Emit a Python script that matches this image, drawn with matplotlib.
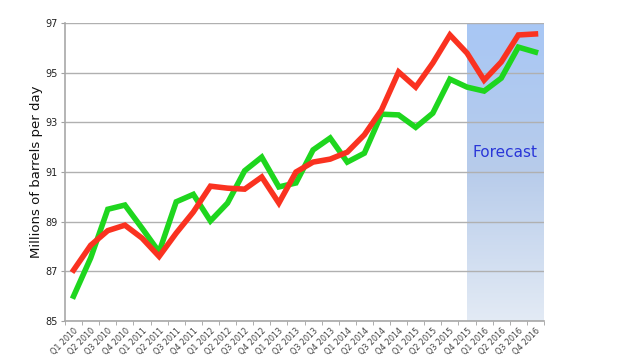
import matplotlib
matplotlib.use("Agg")
import matplotlib.pyplot as plt
import numpy as np
from matplotlib.colors import LinearSegmentedColormap

quarters = [f"Q{q} {y}" for y in range(2010, 2017) for q in range(1, 5)]
red_vals = [87.05, 88.05, 88.64, 88.86, 88.34, 87.6, 88.54, 89.39, 90.43, 90.35,
            90.31, 90.8, 89.75, 91.0, 91.4, 91.52, 91.8, 92.5, 93.5, 95.03,
            94.42, 95.39, 96.52, 95.79, 94.7, 95.43, 96.52, 96.56]
green_vals = [86.0, 87.54, 89.5, 89.67, 88.74, 87.78, 89.8, 90.1, 89.03, 89.75,
              91.05, 91.6, 90.4, 90.56, 91.89, 92.37, 91.4, 91.76, 93.33, 93.3,
              92.8, 93.37, 94.74, 94.42, 94.26, 94.78, 96.03, 95.83]
yticks = [85, 87, 89, 91, 93, 95, 97]
forecast_start = "Q4 2015"

fig = plt.figure(figsize=(6.4, 3.6), dpi=100)
ax = fig.add_axes([0.1016, 0.1083, 0.7484, 0.8277])
x = np.arange(len(quarters))

# forecast gradient
start = quarters.index(forecast_start)
cmap = LinearSegmentedColormap.from_list("fc", [(0.89, 0.92, 0.96), (0.72, 0.80, 0.92), (0.66, 0.78, 0.96)])
grad = np.linspace(0, 1, 256).reshape(-1, 1)
ax.imshow(grad, extent=[start, len(quarters) - 0.5, 85, 97], origin="lower",
          cmap=cmap, aspect="auto", zorder=0.5)

for v in yticks:
    ax.axhline(v, color="#b0b0b0", lw=1, zorder=1)

ax.plot(x, green_vals, color="#1ed61e", lw=4, solid_joinstyle="miter", zorder=3)
ax.plot(x, red_vals, color="#fa3220", lw=4, solid_joinstyle="miter", zorder=4)

ax.text(start + 2.2, 91.8, "Forecast", color="#2a36d8", fontsize=11,
        ha="center", va="center", zorder=5)

ax.set_xlim(-0.5, len(quarters) - 0.5)
ax.set_ylim(85, 97)
ax.set_yticks(yticks)
ax.set_yticklabels([str(v) for v in yticks], fontsize=7, color="#222222")
ax.set_xticks(x)
ax.set_xticklabels(quarters, rotation=45, ha="right", rotation_mode="anchor",
                   fontsize=5.8, color="#444444")
ax.set_xticks(np.arange(-0.5, len(quarters), 1), minor=True)
ax.tick_params(axis="x", which="major", length=0, pad=4)
ax.tick_params(axis="x", which="minor", length=3, color="#a0a0a0")
ax.tick_params(axis="y", length=3, color="#a0a0a0", pad=2)
ax.set_ylabel("Millions of barrels per day", fontsize=9.5, color="#111111", labelpad=2)
for s in ["top", "right"]:
    ax.spines[s].set_visible(False)
for s in ["left", "bottom"]:
    ax.spines[s].set_color("#a8a8a8")
    ax.spines[s].set_linewidth(1.2)

fig.savefig("out.png", dpi=100)
